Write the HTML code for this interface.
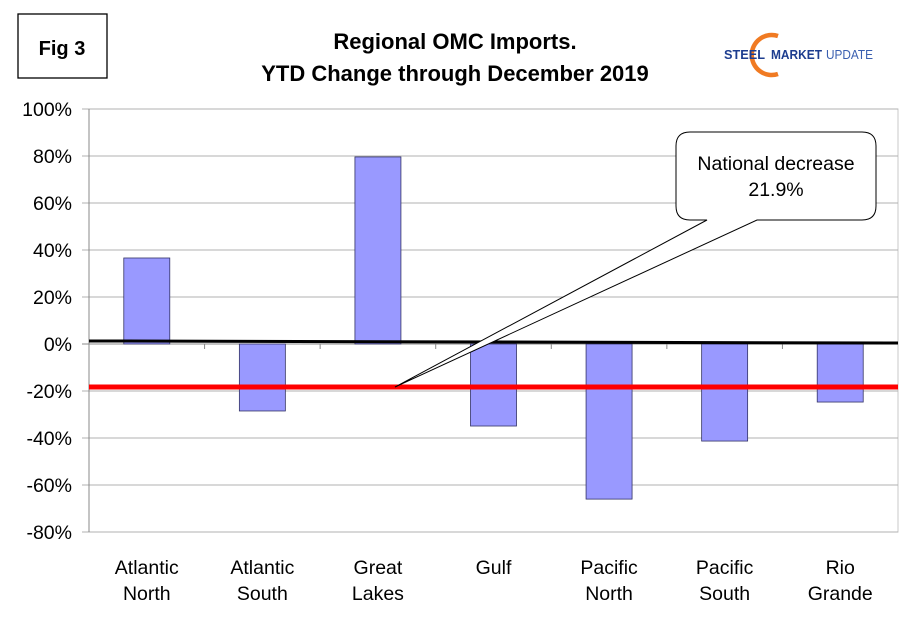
<!DOCTYPE html>
<html><head><meta charset="utf-8"><style>
body{margin:0;background:#fff;font-family:"Liberation Sans",Arial,sans-serif}
svg text{font-family:"Liberation Sans",Arial,sans-serif}
</style></head><body>
<svg id="c" width="910" height="622" viewBox="0 0 910 622">
<rect x="18" y="14" width="89" height="64" fill="#fff" stroke="#000" stroke-width="1.3"/>
<text x="62" y="55" font-size="20" font-weight="bold" text-anchor="middle">Fig 3</text>
<text x="455" y="49" font-size="22" font-weight="bold" text-anchor="middle">Regional OMC Imports.</text>
<text x="455" y="81" font-size="22" font-weight="bold" text-anchor="middle">YTD Change through December 2019</text>
<g>
<path d="M778 36 A20 20 0 1 0 778 74" fill="none" stroke="#f07a22" stroke-width="4.5"/>
<text x="724" y="59" font-size="12.5" font-weight="bold" fill="#1d3d8f" textLength="41" lengthAdjust="spacingAndGlyphs">STEEL</text>
<text x="771" y="59" font-size="12.5" font-weight="bold" fill="#1d3d8f" textLength="51" lengthAdjust="spacingAndGlyphs">MARKET</text>
<text x="826" y="59" font-size="12.5" fill="#3a5fb0" textLength="47" lengthAdjust="spacingAndGlyphs">UPDATE</text>
</g>
<g id="grid"></g><g id="bars"></g><g id="axis"></g><g id="over"></g>
</svg>
<script>
const categories=[["Atlantic","North"],["Atlantic","South"],["Great","Lakes"],["Gulf",""],["Pacific","North"],["Pacific","South"],["Rio","Grande"]];
const values=[36.6,-28.5,79.6,-34.9,-66,-41.3,-24.7];
const ticks=[100,80,60,40,20,0,-20,-40,-60,-80];
const nationalLine=[-18.3];
const zeroLine=[1.3,0.4];
const NS="http://www.w3.org/2000/svg";
const X0=89,X1=898,Y0=344,PX=47/20;
const y=v=>Y0-v*PX;
const cw=(X1-X0)/categories.length;
const x=i=>X0+cw*(i+0.5);
function mk(t,a,p){const e=document.createElementNS(NS,t);for(const k in a)e.setAttribute(k,a[k]);document.getElementById(p).appendChild(e);return e;}
const ytop=y(ticks[0]), ybot=y(ticks[ticks.length-1]);
let b=mk('rect',{x:X0,y:ytop,width:X1-X0,height:ybot-ytop,fill:'none',stroke:'#c8c8c8'},'grid');


ticks.forEach(t=>{
 let l=mk('line',{x1:82,x2:X1,y1:y(t),y2:y(t),stroke:t==0?'#888':'#b0b0b0','stroke-width':1},'grid');
 
 
 let tx=mk('text',{x:72,y:y(t)+7,'font-size':19.5,'text-anchor':'end'},'axis');tx.textContent=t+'%';
 
 
});
let ax=mk('line',{x1:X0,x2:X0,y1:ytop,y2:ybot,stroke:'#888'},'axis');


for(let i=1;i<categories.length;i++){let tk=mk('line',{x1:X0+cw*i,x2:X0+cw*i,y1:Y0,y2:Y0+5,stroke:'#888'},'axis');
 
 }
values.forEach((v,i)=>{
 let r=mk('rect',{x:x(i)-23,y:Math.min(y(v),Y0),width:46,height:Math.abs(y(v)-Y0),fill:'#9999ff',stroke:'#333366','stroke-width':0.8},'bars');
 
 
 categories[i].forEach((s,j)=>{let t=mk('text',{x:x(i),y:574+j*26,'font-size':19.5,'text-anchor':'middle'},'axis');t.textContent=s;
  
  });
});
let zl=mk('line',{x1:X0,x2:X1,y1:y(zeroLine[0]),y2:y(zeroLine[1]),stroke:'#000','stroke-width':3},'over');


let rl=mk('line',{x1:X0,x2:X1,y1:y(nationalLine[0]),y2:y(nationalLine[0]),stroke:'#ff0000','stroke-width':5},'over');


const tipY=y(nationalLine[0]);
let co=mk('path',{d:`M690 132 L862 132 Q876 132 876 146 L876 206 Q876 220 862 220 L757 220 L395 ${tipY} L707 220 L690 220 Q676 220 676 206 L676 146 Q676 132 690 132 Z`,fill:'#fff',stroke:'#000','stroke-width':1},'over');


let c1=mk('text',{x:776,y:170,'font-size':19.5,'text-anchor':'middle'},'over');c1.textContent='National decrease';


let c2=mk('text',{x:776,y:196,'font-size':19.5,'text-anchor':'middle'},'over');c2.textContent='21.9%';


</script>
</body></html>
